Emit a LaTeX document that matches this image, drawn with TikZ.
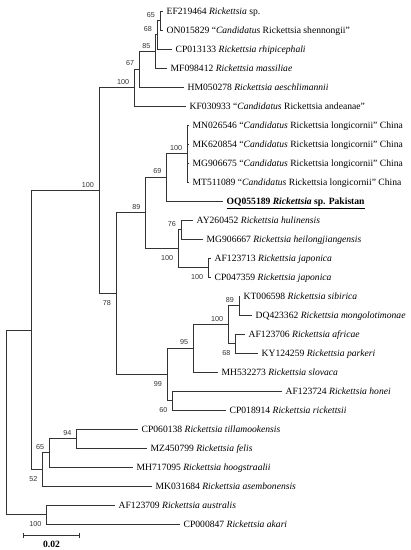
\documentclass[tikz,border=0pt]{standalone}
\usepackage{fontspec}
\setmainfont{Liberation Serif}
\setsansfont{Liberation Sans}
\usetikzlibrary{arrows.meta}

\newcommand{\rick}[1]{\textit{Rickettsia #1}}
\newcommand{\candid}[1]{``\textit{Candidatus} Rickettsia #1''}

\begin{document}
\begin{tikzpicture}[
    x=1pt, y=-1pt,
    branch/.style={draw=black!80, line width=0.9pt},
    leaf/.style={anchor=west, inner xsep=3.5pt, inner ysep=0pt, text height=6.5pt, text depth=0pt, font=\fontsize{9.6}{11}\selectfont},
    bs/.style={font=\sffamily\fontsize{7.2}{8}\selectfont, inner sep=0pt, text=black!80},
    bsup/.style={bs, anchor=south east, xshift=-5pt, yshift=3pt},
    bsdn/.style={bs, anchor=north east, xshift=-5pt, yshift=-6.4pt}
]
    \useasboundingbox (0,0) rectangle (411,550);

    % --- inner nodes ---
    \coordinate (root) at (6,422.25);
    \coordinate (nA) at (31.7,330);
    \coordinate (n100b) at (99,190.6);
    \coordinate (n100a) at (134.3,87.6);
    \coordinate (n67) at (139.3,69.2);
    \coordinate (n85) at (155.7,51.4);
    \coordinate (n68) at (157,34.75);
    \coordinate (n65) at (160,20.5);
    \coordinate (n78) at (116,293.6);
    \coordinate (n89) at (145.5,212.9);
    \coordinate (n69) at (166.7,177.25);
    \coordinate (nLong) at (187.3,153.5);
    \coordinate (n100c) at (178.3,248.5);
    \coordinate (n76) at (181,229.5);
    \coordinate (nJap) at (208.3,267.5);
    \coordinate (n99) at (167,374.4);
    \coordinate (n95) at (193.3,348.25);
    \coordinate (n100s) at (228.3,324.5);
    \coordinate (n89s) at (239,305.5);
    \coordinate (n68s) at (235.7,343.5);
    \coordinate (n60) at (172.7,400.5);
    \coordinate (n52) at (42.7,469.4);
    \coordinate (n65f) at (49.3,452.75);
    \coordinate (n94) at (76.7,438.5);
    \coordinate (nAus) at (46.7,514.5);

    % --- taxa ---
    \node[leaf] (ef219464) at (163,11) {EF219464 \textit{Rickettsia} sp.};
    \node[leaf] (on015829) at (163,30) {ON015829 \candid{shennongii}};
    \node[leaf] (cp013133) at (172,49) {CP013133 \rick{rhipicephali}};
    \node[leaf] (mf098412) at (167,68) {MF098412 \rick{massiliae}};
    \node[leaf] (hm050278) at (184,87) {HM050278 \rick{aeschlimannii}};
    \node[leaf] (kf030933) at (186,106) {KF030933 \candid{andeanae}};
    \node[leaf] (mn026546) at (189,125) {MN026546 \candid{longicornii} China};
    \node[leaf] (mk620854) at (189,144) {MK620854 \candid{longicornii} China};
    \node[leaf] (mg906675) at (189,163) {MG906675 \candid{longicornii} China};
    \node[leaf] (mt511089) at (189,182) {MT511089 \candid{longicornii} China};
    \node[leaf] (oq055189) at (223,201) {\underline{\textbf{OQ055189 \textit{Rickettsia} sp. Pakistan}}};
    \node[leaf] (ay260452) at (193,220) {AY260452 \rick{hulinensis}};
    \node[leaf] (mg906667) at (203,239) {MG906667 \rick{heilongjiangensis}};
    \node[leaf] (af123713) at (211,258) {AF123713 \rick{japonica}};
    \node[leaf] (cp047359) at (211,277) {CP047359 \rick{japonica}};
    \node[leaf] (kt006598) at (240,296) {KT006598 \rick{sibirica}};
    \node[leaf] (dq423362) at (252,315) {DQ423362 \rick{mongolotimonae}};
    \node[leaf] (af123706) at (245,334) {AF123706 \rick{africae}};
    \node[leaf] (ky124259) at (258,353) {KY124259 \rick{parkeri}};
    \node[leaf] (mh532273) at (218,372) {MH532273 \rick{slovaca}};
    \node[leaf] (af123724) at (282,391) {AF123724 \rick{honei}};
    \node[leaf] (cp018914) at (226,410) {CP018914 \rick{rickettsii}};
    \node[leaf] (cp060138) at (138,429) {CP060138 \rick{tillamookensis}};
    \node[leaf] (mz450799) at (147,448) {MZ450799 \rick{felis}};
    \node[leaf] (mh717095) at (133,467) {MH717095 \rick{hoogstraalii}};
    \node[leaf] (mk031684) at (152,486) {MK031684 \rick{asembonensis}};
    \node[leaf] (af123709) at (115,505) {AF123709 \rick{australis}};
    \node[leaf] (cp000847) at (180,524) {CP000847 \rick{akari}};

    % --- branches ---
    \draw[branch] (root) |- (nA);
    \draw[branch] (root) |- (nAus);
    \draw[branch] (nA) |- (n100b);
    \draw[branch] (nA) |- (n52);
    \draw[branch] (n100b) |- (n100a);
    \draw[branch] (n100b) |- (n78);
    \draw[branch] (n100a) |- (n67);
    \draw[branch] (n100a) |- (kf030933.west);
    \draw[branch] (n67) |- (n85);
    \draw[branch] (n67) |- (hm050278.west);
    \draw[branch] (n85) |- (n68);
    \draw[branch] (n85) |- (mf098412.west);
    \draw[branch] (n68) |- (n65);
    \draw[branch] (n68) |- (cp013133.west);
    \draw[branch] (n65) |- (ef219464.west);
    \draw[branch] (n65) |- (on015829.west);
    \draw[branch] (n78) |- (n89);
    \draw[branch] (n78) |- (n99);
    \draw[branch] (n89) |- (n69);
    \draw[branch] (n89) |- (n100c);
    \draw[branch] (n69) |- (nLong);
    \draw[branch] (n69) |- (oq055189.west);
    \draw[branch] (nLong) |- (mn026546.west);
    \draw[branch] (nLong) |- (mk620854.west);
    \draw[branch] (nLong) |- (mg906675.west);
    \draw[branch] (nLong) |- (mt511089.west);
    \draw[branch] (n100c) |- (n76);
    \draw[branch] (n100c) |- (nJap);
    \draw[branch] (n76) |- (ay260452.west);
    \draw[branch] (n76) |- (mg906667.west);
    \draw[branch] (nJap) |- (af123713.west);
    \draw[branch] (nJap) |- (cp047359.west);
    \draw[branch] (n99) |- (n95);
    \draw[branch] (n99) |- (n60);
    \draw[branch] (n95) |- (n100s);
    \draw[branch] (n95) |- (mh532273.west);
    \draw[branch] (n100s) |- (n89s);
    \draw[branch] (n100s) |- (n68s);
    \draw[branch] (n89s) |- (kt006598.west);
    \draw[branch] (n89s) |- (dq423362.west);
    \draw[branch] (n68s) |- (af123706.west);
    \draw[branch] (n68s) |- (ky124259.west);
    \draw[branch] (n60) |- (af123724.west);
    \draw[branch] (n60) |- (cp018914.west);
    \draw[branch] (n52) |- (n65f);
    \draw[branch] (n52) |- (mk031684.west);
    \draw[branch] (n65f) |- (n94);
    \draw[branch] (n65f) |- (mh717095.west);
    \draw[branch] (n94) |- (cp060138.west);
    \draw[branch] (n94) |- (mz450799.west);
    \draw[branch] (nAus) |- (af123709.west);
    \draw[branch] (nAus) |- (cp000847.west);

    % --- bootstrap values ---
    \node[bsup] (b65) at (n65) {65};
    \node[bsup] (b68) at (n68) {68};
    \node[bsup] (b85) at (n85) {85};
    \node[bsup] (b67) at (n67) {67};
    \node[bsup] (b100a) at (n100a) {100};
    \node[bsup] (b100b) at (n100b) {100};
    \node[bsup] (b100l) at (nLong) {100};
    \node[bsup] (b69) at (n69) {69};
    \node[bsup] (b89) at (n89) {89};
    \node[bsup] (b76) at (n76) {76};
    \node[bsdn] (b100c) at (n100c) {100};
    \node[bsdn] (b100j) at (nJap) {100};
    \node[bsdn] (b78) at (n78) {78};
    \node[bsup] (b89s) at (n89s) {89};
    \node[bsup] (b100s) at (n100s) {100};
    \node[bsdn] (b68s) at (n68s) {68};
    \node[bsup] (b95) at (n95) {95};
    \node[bsdn] (b99) at (n99) {99};
    \node[bsdn] (b60) at (n60) {60};
    \node[bsup] (b94) at (n94) {94};
    \node[bsup] (b65f) at (n65f) {65};
    \node[bsdn] (b52) at (n52) {52};
    \node[bsdn] (b100au) at (nAus) {100};

    % --- scale bar ---
    \coordinate (sbl) at (23.3,535);
    \coordinate (sbr) at (80,535);
    \draw[branch, {Bar[width=5pt]}-{Bar[width=5pt]}] (sbl) -- (sbr);
    \node[inner sep=0pt, text height=6.5pt, text depth=0pt, font=\bfseries\fontsize{9.6}{11}\selectfont] (sbval) at (51.6,544.5) {0.02};
\end{tikzpicture}
\end{document}
